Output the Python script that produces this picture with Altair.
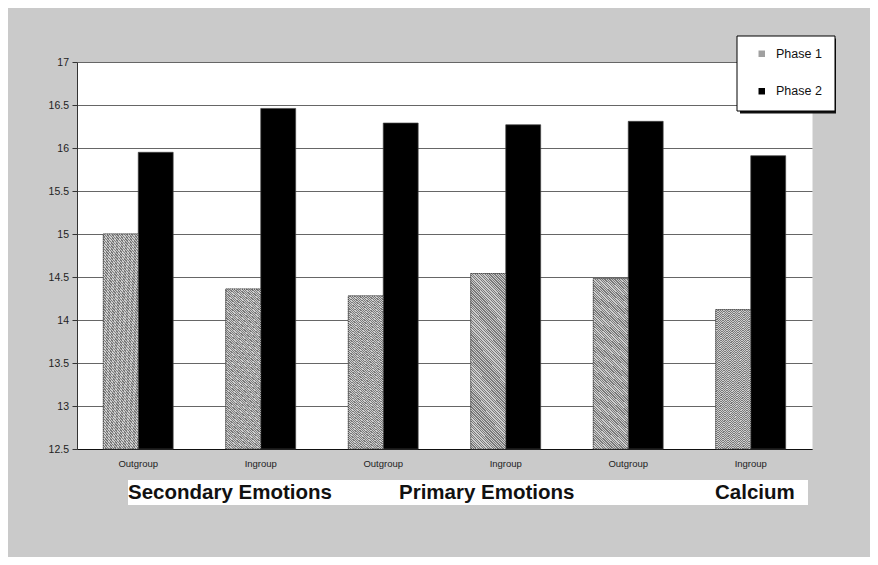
import altair as alt
import pandas as pd

# ---- data ----
conditions = ["Outgroup", "Ingroup", "Outgroup", "Ingroup", "Outgroup", "Ingroup"]
phases = ["Phase 1", "Phase 2"]
phase1 = [15.00, 14.36, 14.28, 14.54, 14.48, 14.12]
phase2 = [15.95, 16.46, 16.29, 16.27, 16.31, 15.91]
section_labels = ["Secondary Emotions", "Primary Emotions", "Calcium"]
y_ticks = [12.5, 13, 13.5, 14, 14.5, 15, 15.5, 16, 16.5, 17]

keys = [f"{i}|{c}" for i, c in enumerate(conditions)]
rows = []
for k, v1, v2 in zip(keys, phase1, phase2):
    rows.append({"key": k, "phase": phases[0], "value": v1})
    rows.append({"key": k, "phase": phases[1], "value": v2})
df = pd.DataFrame(rows)

FONT = "Liberation Sans"

# fine hatch-like fill for phase 1 bars
N = 85
dark, light = "#7a7a7a", "#cdcdcd"
stops = []
for i in range(N):
    a, b, c = i / N, (i + 0.5) / N, (i + 1) / N
    stops += [
        alt.GradientStop(offset=round(a, 4), color=dark),
        alt.GradientStop(offset=round(b, 4), color=dark),
        alt.GradientStop(offset=round(b, 4), color=light),
        alt.GradientStop(offset=round(c, 4), color=light),
    ]
hatch = alt.LinearGradient(gradient="linear", stops=stops, x1=0, y1=1, x2=0.231, y2=-0.154)

x_enc = alt.X(
    "key:N",
    sort=keys,
    scale=alt.Scale(paddingInner=0.43, paddingOuter=0.215),
    axis=alt.Axis(
        labelExpr="split(datum.label, '|')[1]",
        labelAngle=0,
        ticks=False,
        domainColor="#111111",
        domainWidth=1,
        labelPadding=9,
        labelFontSize=9.5,
        labelFont=FONT,
        labelColor="#222222",
        title=None,
        grid=False,
    ),
)
xoff_enc = alt.XOffset("phase:N", scale=alt.Scale(domain=phases, paddingInner=0, paddingOuter=0))
y_enc = alt.Y(
    "value:Q",
    scale=alt.Scale(domain=[12.5, 17], zero=False, nice=False),
    axis=alt.Axis(
        values=y_ticks,
        format="~g",
        grid=True,
        gridColor="#666666",
        gridWidth=1,
        domainColor="#333333",
        tickColor="#333333",
        tickSize=5,
        labelPadding=3.5,
        labelFontSize=10.5,
        labelFont=FONT,
        labelColor="#222222",
        title=None,
    ),
)

base = alt.Chart(df).mark_bar(stroke="#444444", strokeWidth=0.7).encode(
    x=x_enc,
    xOffset=xoff_enc,
    y=y_enc,
    y2=alt.datum(12.5),
    color=alt.Color(
        "phase:N",
        scale=alt.Scale(domain=phases, range=["#a0a0a0", "#000000"]),
        legend=alt.Legend(
            orient="none",
            legendX=659.5,
            legendY=-26.5,
            title=None,
            fillColor="white",
            strokeColor="#000000",
            padding=12,
            rowPadding=24.5,
            symbolType="square",
            symbolSize=42,
            symbolStrokeWidth=0,
            symbolOffset=7,
            labelOffset=8,
            labelFontSize=12.5,
            labelFont=FONT,
            labelColor="#111111",
            labelExpr="datum.label + '\u00a0\u00a0\u00a0'",
        ),
    ),
)

hatched = alt.Chart(df).transform_filter(alt.datum.phase == phases[0]).mark_bar(
    fill=hatch, stroke="#333333", strokeWidth=0.8, strokeDash=[1, 1]
).encode(x=x_enc, xOffset=xoff_enc, y=y_enc, y2=alt.datum(12.5))

# legend shadow
shadow = alt.Chart(pd.DataFrame({"s": [0]})).mark_rect(color="#111111").encode(
    x=alt.value(663), x2=alt.value(759), y=alt.value(-23.5), y2=alt.value(51.5)
)

# white strip behind section labels
strip = alt.Chart(pd.DataFrame({"s": [0]})).mark_rect(color="white").encode(
    x=alt.value(51), x2=alt.value(731), y=alt.value(418), y2=alt.value(443)
)

label_x = [51, 322, 638]
texts = []
for lab, lx in zip(section_labels, label_x):
    texts.append(
        alt.Chart(pd.DataFrame({"t": [lab]})).mark_text(
            font=FONT, fontSize=20.5, fontWeight="bold", align="left", baseline="alphabetic", color="#111111"
        ).encode(text="t:N", x=alt.value(lx), y=alt.value(436.5))
    )

chart = alt.layer(shadow, strip, *texts, base, hatched).properties(
    width=735,
    height=387,
    padding={"left": 69, "top": 54, "right": 58, "bottom": 108},
    autosize=alt.AutoSizeParams(type="none"),
    background="#cacaca",
).configure_view(fill="white", stroke="transparent")

chart.save("out.html", embed_options={"renderer": "svg", "actions": False})
